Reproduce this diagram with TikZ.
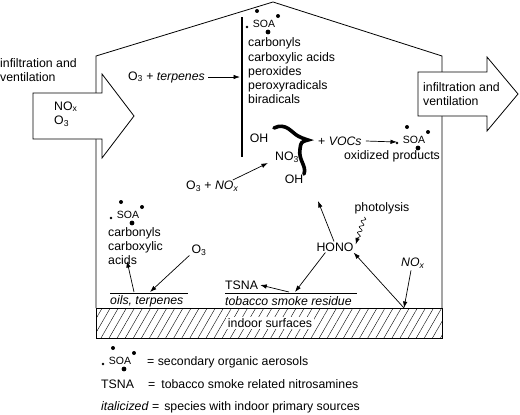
\documentclass[tikz,border=0pt]{standalone}
\usepackage{fontspec}
\setmainfont{Liberation Sans}
\usetikzlibrary{arrows.meta,patterns.meta,decorations.pathmorphing,calc}
\newcommand{\subs}[1]{\textsubscript{#1}}
\begin{document}
\begin{tikzpicture}[x=1pt,y=-1pt,
  txt/.style={inner sep=0pt,font=\fontsize{12.3}{14.3}\selectfont,align=left},
  lst/.style={txt,anchor=west},
  arr/.style={-{Latex[length=6.5pt,width=4.5pt]},line width=0.7pt},
  wall/.style={line width=0.8pt},
  soatxt/.style={inner sep=0pt,font=\fontsize{10.5}{12}\selectfont},
  soa/.pic={
    \node[soatxt] (-t) at (0,0) {SOA};
    \fill (-7,-13) circle (2pt);
    \fill (14,-8) circle (2pt);
    \fill (4,8) circle (2.4pt);
    \fill (-17,3) circle (1.3pt);
  }]
\useasboundingbox (0,0) rectangle (520,415);
% house
\coordinate (wl) at (96,56);
\coordinate (peak) at (273,2);
\coordinate (wr) at (442,56);
\coordinate (fl) at (96,308);
\coordinate (fr) at (442,308);
\draw[wall] (fl) -- (wl) -- (peak) -- (wr) -- (fr);
\draw[wall,pattern={Lines[angle=60,distance=7pt,line width=0.4pt]}] (96,308) rectangle (442,338);
\node[txt,fill=white,inner sep=1.5pt] (surf) at (270,323) {indoor surfaces};
% inflow arrow
\draw[wall,fill=white] (33,93) -- (102,93) -- (102,74) -- (134,116) -- (102,158) -- (102,139) -- (33,139) -- cycle;
\node[txt,anchor=west] (inl) at (0,70) {infiltration and\\ventilation};
\node[txt,anchor=west] (inair) at (54,114) {NO\subs{x}\\O\subs{3}};
% outflow arrow
\draw[wall,fill=white] (418,72) -- (487,72) -- (487,57) -- (518,94) -- (487,131) -- (487,116) -- (418,116) -- cycle;
\node[txt,anchor=west] (outair) at (423,94) {infiltration and\\ventilation};
% gas phase
\node[txt,anchor=east] (terp) at (205,77) {O\subs{3} + \textit{terpenes}};
\draw[line width=2pt] (242,17) coordinate (vt) -- (242,157) coordinate (vb);
\draw[arr] ($(terp.east)+(3,0)$) -- ($(terp.east -| vt)+(-2,0)$);
\pic (soa1) at (264,24) {soa};
\node[lst] (prods) at (248,71) {carbonyls\\carboxylic acids\\peroxides\\peroxyradicals\\biradicals};
\node[txt] (oh1) at (259,138) {OH};
\node[txt] (no3) at (287,157) {NO\subs{3}};
\node[txt] (oh2) at (294,179) {OH};
\draw[line width=3.6pt,line cap=round] (274,128) .. controls (286,122) and (292,133) .. (298,136) .. controls (302,138) .. (308,140) .. controls (301,142) .. (300,149) .. controls (298,160) and (307,166) .. (304,174);
\node[lst] (vocs) at (318,141) {+ \textit{VOCs}};
\pic (soa2) at (414,140) {soa};
\draw[arr] ($(vocs.east)+(4,0)$) -- (397,142);
\node[txt] (oxp) at (392,156) {oxidized products};
\node[lst] (onox) at (186,186) {O\subs{3} + \textit{NO}\subs{\textit{x}}};
\draw[arr] ($(onox.east)+(-6,-6)$) -- ($(no3.west)+(-7,6)$);
% surfaces
\pic (soa3) at (128,215) {soa};
\node[lst] (llist) at (108,246) {carbonyls\\carboxylic\\acids};
\node[txt] (o3b) at (199,250) {O\subs{3}};
\draw[line width=0.7pt] (110,293) coordinate (oilL) -- (188,293) coordinate (oilR);
\node[lst] (oils) at (110,301) {\textit{oils, terpenes}};
\draw[arr] ($(o3b.south west)+(-2,0)$) -- (150,292);
\draw[arr] (134,292) -- ($(llist.south west)+(19,-4)$);
\draw[line width=0.7pt] (225,293) coordinate (tobL) -- (357,293) coordinate (tobR);
\node[lst] (tob) at (225,301) {\textit{tobacco smoke residue}};
\node[lst] (tsna) at (225,285) {TSNA};
\node[txt] (hono) at (335,247) {HONO};
\node[txt] (photo) at (382,208) {photolysis};
\node[txt] (nox) at (413,263) {\textit{NO}\subs{\textit{x}}};
\coordinate (apex) at (404,308);
\draw[arr] (289,292) -- ($(tsna.east)+(2,0)$);
\draw[arr] ($(hono.south west)+(9,1)$) -- (295,292);
\draw[arr] ($(hono.north)+(-1,-1)$) -- (318,201);
\draw[-{Latex[length=6.5pt,width=4.5pt]},line width=0.6pt,decorate,decoration={snake,segment length=6pt,amplitude=2pt,post length=7pt}] ($(photo.south west)+(10,3)$) -- ($(hono.north east)+(2,2)$);
\draw[arr] ($(nox.south)+(-2,2)$) -- (apex);
\draw[arr] (apex) -- ($(hono.south east)+(0,1)$);
% legend
\pic (soa4) at (120,361) {soa};
\node[lst] (l1) at (147,362) {= secondary organic aerosols};
\node[lst] (l2) at (101,384) {TSNA};
\node[lst] (l2b) at (148,384) {=\hspace{6pt}tobacco smoke related nitrosamines};
\node[lst] (l3) at (101,407) {\textit{italicized} =\hspace{5pt}species with indoor primary sources};
\end{tikzpicture}
\end{document}
